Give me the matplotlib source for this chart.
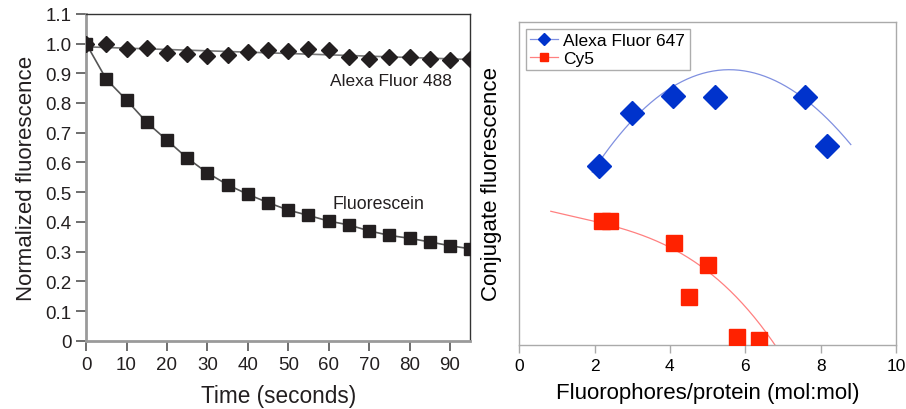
import numpy as np
import matplotlib
matplotlib.use('Agg')
import matplotlib.pyplot as plt

plt.rcParams['font.family'] = ['Liberation Sans', 'DejaVu Sans']

# left panel: photobleaching
time_s = [0, 5, 10, 15, 20, 25, 30, 35, 40, 45, 50, 55, 60, 65, 70, 75, 80, 85, 90, 95]
fluorescein = [1.0, 0.88, 0.81, 0.735, 0.675, 0.615, 0.565, 0.525, 0.493, 0.465,
               0.44, 0.422, 0.403, 0.39, 0.37, 0.355, 0.345, 0.333, 0.32, 0.31]
alexa488 = [1.0, 1.0, 0.98, 0.985, 0.968, 0.965, 0.957, 0.96, 0.97, 0.977,
            0.975, 0.983, 0.977, 0.955, 0.948, 0.955, 0.955, 0.948, 0.945, 0.948]
left_yticks = [0, 0.1, 0.2, 0.3, 0.4, 0.5, 0.6, 0.7, 0.8, 0.9, 1.0, 1.1]
left_yticklabels = ['0', '0.1', '0.2', '0.3', '0.4', '0.5', '0.6', '0.7', '0.8', '0.9', '1.0', '1.1']

# right panel: degree of labeling
dol_647 = [2.12, 2.99, 4.09, 5.2, 7.59, 8.18]
fl_647 = [0.555, 0.717, 0.77, 0.767, 0.767, 0.617]
dol_cy5 = [2.19, 2.41, 4.1, 5.0, 4.51, 5.77, 6.37]
fl_cy5 = [0.383, 0.383, 0.315, 0.248, 0.148, 0.024, 0.015]

# trend lines, points
trend647_x = [1.94, 2.99, 4.09, 5.82, 7.59, 8.8]
trend647_y = [0.526, 0.715, 0.795, 0.832, 0.782, 0.612]
trendcy5_x = [0.84, 2.77, 4.09, 6.79]
trendcy5_y = [0.414, 0.359, 0.297, 0.0]

fig = plt.figure(figsize=(9.06, 4.10), dpi=100)

# ---- left panel
ax1 = fig.add_axes([0.095, 0.166, 0.424, 0.798])
ax1.plot(time_s, fluorescein, color='#555555', lw=1.2, zorder=2)
ax1.plot(time_s, fluorescein, 's', color='#231f20', ms=8.5, zorder=3)
fit488 = np.polyfit(time_s, alexa488, 1)
tt = np.array([0, 95])
ax1.plot(tt, np.polyval(fit488, tt), color='#777777', lw=1.2, zorder=2)
ax1.plot(time_s, alexa488, 'D', color='#231f20', ms=8.5, zorder=3)
ax1.text(90.5, 0.875, 'Alexa Fluor 488', ha='right', va='center', fontsize=12.5, color='#231f20')
ax1.text(61, 0.461, 'Fluorescein', ha='left', va='center', fontsize=12.8, color='#231f20')

ax1.set_xlim(0, 95)
ax1.set_ylim(0, 1.1)
ax1.set_xticks(np.arange(0, 91, 10))
ax1.set_yticks(left_yticks)
ax1.set_yticklabels(left_yticklabels)
for s in ['left', 'bottom']:
    ax1.spines[s].set_color('#9a9a9a')
    ax1.spines[s].set_linewidth(2)
for s in ['top', 'right']:
    ax1.spines[s].set_color('#333333')
    ax1.spines[s].set_linewidth(1)
ax1.tick_params(direction='out', length=7, width=1.2, color='#555555',
                labelsize=13.5, labelcolor='#231f20')
ax1.set_xlabel('Time (seconds)', fontsize=16.3, color='#231f20', labelpad=8)
ax1.set_ylabel('Normalized fluorescence', fontsize=16, color='#231f20', labelpad=6)

# ---- right panel
ax2 = fig.add_axes([0.573, 0.156, 0.416, 0.788])
fit647 = np.polyfit(trend647_x, trend647_y, 3)
xb = np.linspace(trend647_x[0], trend647_x[-1], 200)
ax2.plot(xb, np.polyval(fit647, xb), color='#8090e0', lw=0.9, zorder=2)
fitcy5 = np.polyfit(trendcy5_x, trendcy5_y, 3)
xr = np.linspace(trendcy5_x[0], 7.2, 200)
ax2.plot(xr, np.polyval(fitcy5, xr), color='#ff8080', lw=0.9, zorder=2)
ax2.plot(dol_647, fl_647, 'D', color='#0033cc', ms=12, zorder=3)
ax2.plot(dol_cy5, fl_cy5, 's', color='#ff2200', ms=12, zorder=3)

ax2.plot([], [], '-D', color='#8090e0', mfc='#0033cc', mec='#0033cc', ms=6, lw=0.9,
         label='Alexa Fluor 647')
ax2.plot([], [], '-s', color='#ff8080', mfc='#ff2200', mec='#ff2200', ms=6, lw=0.9,
         label='Cy5')
leg = ax2.legend(loc='upper left', fontsize=12.5, frameon=True, fancybox=False,
                 borderaxespad=0.4, handlelength=1.6, handletextpad=0.3,
                 labelspacing=0.15, borderpad=0.25)
leg.get_frame().set_edgecolor('#999999')

ax2.set_xlim(0, 10)
ax2.set_ylim(0, 1)
ax2.set_xticks([0, 2, 4, 6, 8, 10])
ax2.set_yticks([])
for s in ax2.spines.values():
    s.set_color('#aaaaaa')
    s.set_linewidth(1)
ax2.tick_params(axis='x', direction='out', length=6, width=1, color='#aaaaaa', labelsize=12.5)
ax2.set_xlabel('Fluorophores/protein (mol:mol)', fontsize=16, labelpad=6)
ax2.set_ylabel('Conjugate fluorescence', fontsize=16, labelpad=12)

fig.savefig('out.png', dpi=100)
